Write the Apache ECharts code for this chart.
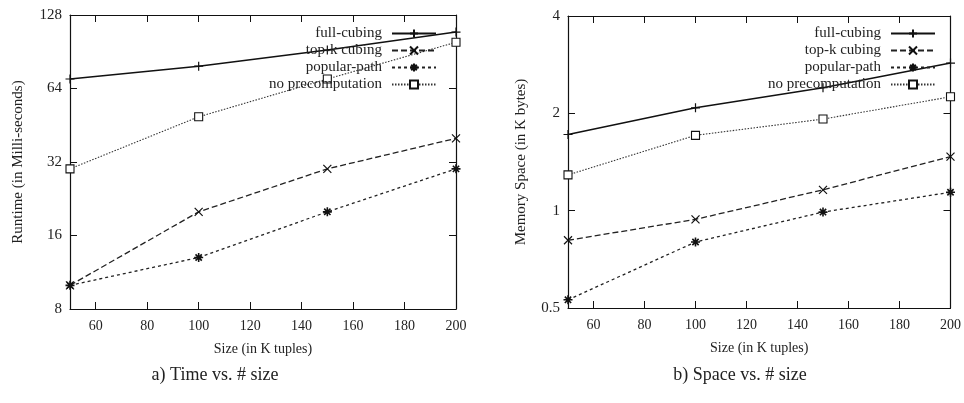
<!DOCTYPE html>
<html>
<head>
<meta charset="utf-8">
<script src="https://cdn.jsdelivr.net/npm/echarts@6/dist/echarts.min.js"></script>
<style>
  html, body { margin: 0; padding: 0; background: #fff; }
  #container { width: 964px; height: 403px; }
</style>
</head>
<body>
<div id="container"></div>
<script>
var dom = document.getElementById('container');
var myChart = echarts.init(dom);

// data
var sizes = [50, 100, 150, 200];
var names = ['full-cubing', 'top-k cubing', 'popular-path', 'no precomputation'];

var timeFull = [70, 79, 92, 109];
var timeTopk = [10, 20, 30, 40];
var timePopular = [10, 13, 20, 30];
var timeNoPre = [30, 49, 70, 99];

var spaceFull = [1.72, 2.08, 2.4, 2.86];
var spaceTopk = [0.81, 0.94, 1.16, 1.47];
var spacePopular = [0.53, 0.80, 0.99, 1.14];
var spaceNoPre = [1.29, 1.71, 1.92, 2.25];

var xTicks = [60, 80, 100, 120, 140, 160, 180, 200];
var timeTicks = [8, 16, 32, 64, 128];
var spaceTicks = [0.5, 1, 2, 4];

var FONT = '"Liberation Serif", "DejaVu Serif", serif';

var symPlus = 'path://M0,5L10,5M5,0L5,10';
var symCross = 'path://M0,0L10,10M10,0L0,10';
var symStar = 'path://M0,5L10,5M5,0L5,10M1.5,1.5L8.5,8.5M8.5,1.5L1.5,8.5';
var symSquare = 'path://M0,0L10,0L10,10L0,10Z';

var styles = [
    { symbol: symPlus, symbolSize: 9, type: 'solid', width: 1.5, color: '#111', fill: '#111', border: 1.2 },
    { symbol: symCross, symbolSize: 8, type: [6, 3], width: 1.3, color: '#222', fill: '#111', border: 1.2 },
    { symbol: symStar, symbolSize: 9, type: [3, 3], width: 1.3, color: '#222', fill: '#111', border: 1.6 },
    { symbol: symSquare, symbolSize: 8, type: [1.5, 1.5], width: 1.1, color: '#333', fill: '#fff', border: 1.1 }
];

var zip = function (xs, ys) {
    return xs.map(function (x, i) { return [x, ys[i]]; });
};

var makeSeries = function (idx, values, axisIdx) {
    var s = styles[idx];
    return {
        name: names[idx],
        type: 'line',
        xAxisIndex: axisIdx,
        yAxisIndex: axisIdx,
        data: zip(sizes, values),
        symbol: s.symbol,
        symbolSize: s.symbolSize,
        showAllSymbol: true,
        animation: false,
        lineStyle: { color: s.color, width: s.width, type: s.type },
        itemStyle: { color: s.fill, borderColor: '#111', borderWidth: s.border }
    };
};

var makeX = function (grid, pos, labels) {
    return {
        type: 'value', gridIndex: grid, position: pos,
        min: 50, max: 200,
        name: labels ? 'Size (in K tuples)' : '',
        nameLocation: 'middle', nameGap: 33,
        nameTextStyle: { fontFamily: FONT, fontSize: 14, color: '#222' },
        axisLine: { show: true, onZero: false, lineStyle: { color: '#111', width: 1.2 } },
        axisTick: { show: true, inside: true, length: 7, customValues: xTicks, lineStyle: { color: '#111' } },
        axisLabel: { show: labels, customValues: xTicks, margin: 10, fontFamily: FONT, fontSize: 14, color: '#222' },
        splitLine: { show: false }
    };
};

var makeY = function (grid, pos, min, max, ticks, name, gap) {
    return {
        type: 'log', logBase: 2, gridIndex: grid, position: pos,
        min: min, max: max,
        name: name || '',
        nameLocation: 'middle', nameGap: gap || 44,
        nameTextStyle: { fontFamily: FONT, fontSize: 15, color: '#222' },
        axisLine: { show: true, onZero: false, lineStyle: { color: '#111', width: 1.2 } },
        axisTick: { show: true, inside: true, length: 7, customValues: ticks, lineStyle: { color: '#111' } },
        axisLabel: { show: !!name, customValues: ticks, margin: 8, fontFamily: FONT, fontSize: 15, color: '#222' },
        minorTick: { show: false },
        splitLine: { show: false }
    };
};

var makeLegend = function (right) {
    return {
        orient: 'vertical', right: right, top: 26, padding: 0,
        align: 'right', itemWidth: 44, itemHeight: 10, itemGap: 2,
        data: names,
        selectedMode: false,
        textStyle: { fontFamily: FONT, fontSize: 15, color: '#222', padding: [0, 5, 0, 0] }
    };
};

var option = {
    backgroundColor: '#fff',
    animation: false,
    grid: [
        { left: 70, top: 15, width: 386, height: 294 },
        { left: 568, top: 16, width: 385, height: 292 }
    ],
    xAxis: [
        makeX(0, 'bottom', true),
        makeX(0, 'top', false),
        makeX(1, 'bottom', true),
        makeX(1, 'top', false)
    ],
    yAxis: [
        makeY(0, 'left', 8, 128, timeTicks, 'Runtime (in Milli-seconds)', 44),
        makeY(0, 'right', 8, 128, timeTicks, null),
        makeY(1, 'left', 0.5, 4, spaceTicks, 'Memory Space (in K bytes)', 39),
        makeY(1, 'right', 0.5, 4, spaceTicks, null)
    ],
    legend: [makeLegend(527), makeLegend(28)],
    series: [
        makeSeries(0, timeFull, 0),
        makeSeries(1, timeTopk, 0),
        makeSeries(2, timePopular, 0),
        makeSeries(3, timeNoPre, 0),
        makeSeries(0, spaceFull, 2),
        makeSeries(1, spaceTopk, 2),
        makeSeries(2, spacePopular, 2),
        makeSeries(3, spaceNoPre, 2)
    ],
    graphic: [
        { type: 'text', x: 215, y: 375, style: { text: 'a) Time vs. # size', font: '18px ' + FONT, fill: '#222', align: 'center', verticalAlign: 'middle' } },
        { type: 'text', x: 740, y: 375, style: { text: 'b) Space vs. # size', font: '18px ' + FONT, fill: '#222', align: 'center', verticalAlign: 'middle' } }
    ]
};

if (option && typeof option === 'object') {
    myChart.setOption(option, true);
}
</script>
</body>
</html>
